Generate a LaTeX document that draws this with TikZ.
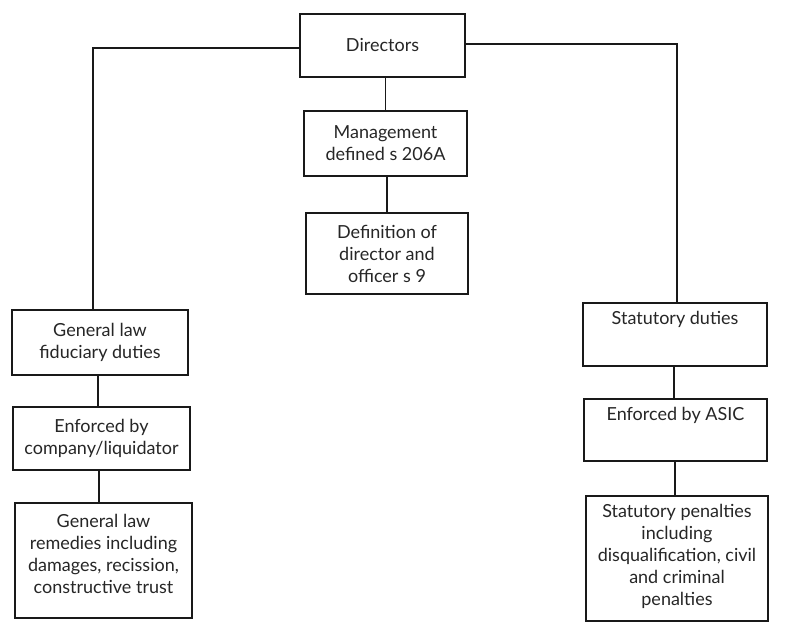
\documentclass[tikz,border=0pt]{standalone}
\usepackage{fontspec}
\setmainfont{Lato}
\begin{document}
\begin{tikzpicture}[x=1pt,y=-1pt,
  every node/.style={font=\fontsize{18}{22}\selectfont, text=black!85},
  box/.style={draw=black!90, line width=1.1pt, inner sep=0pt, align=center},
  txt/.style={inner sep=0pt, align=center, anchor=north},
  link/.style={draw=black!90, line width=1.1pt}]
\useasboundingbox (0,0) rectangle (795,628);
\fill[white] (0,0) rectangle (795,628);

% central column
\node[box, minimum width=165pt, minimum height=63pt] (dir) at (382.5,45.5) {Directors};
\node[box, minimum width=163pt, minimum height=65pt] (mg) at (385.5,143.5) {Management\\defined s 206A};
\node[box, minimum width=162pt, minimum height=81pt] (df) at (387,253.5) {Definition of\\director and\\officer s 9};

% left column
\node[box, minimum width=176pt, minimum height=65pt] (gen) at (100,342.5) {General law\\fiduciary duties};
\node[box, minimum width=177pt, minimum height=63pt] (enf) at (101.5,438.5) {Enforced by\\company/liquidator};
\node[box, minimum width=177pt, minimum height=115pt] (rem) at (103.5,560.5) {};
\node[txt] (remt) at ([yshift=-12pt]rem.north) {General law\\remedies including\\damages, recission,\\constructive trust};

% right column
\node[box, minimum width=184pt, minimum height=63pt] (st) at (675,334.5) {};
\node[txt] (stt) at ([yshift=-9pt]st.north) {Statutory duties};
\node[box, minimum width=183pt, minimum height=62pt] (asic) at (675.5,430) {};
\node[txt] (asict) at ([yshift=-9pt]asic.north) {Enforced by ASIC};
\node[box, minimum width=182pt, minimum height=125pt] (pen) at (677,558.5) {};
\node[txt] (pent) at ([yshift=-9pt]pen.north) {Statutory penalties\\including\\disqualification, civil\\and criminal\\penalties};

% connectors
\coordinate (lc) at (93,48);
\coordinate (rc) at (677,44);
\draw[link] (dir.west |- lc) -- (lc) -- (lc |- gen.north);
\draw[link] (dir.east |- rc) -- (rc) -- (rc |- st.north);
\draw[link] (mg.north |- dir.south) -- (mg.north);
\draw[link] (df.north |- mg.south) -- (df.north);
\draw[link] (gen.south -| 98,0) -- (enf.north -| 98,0);
\draw[link] (enf.south -| 99,0) -- (rem.north -| 99,0);
\draw[link] (st.south -| 674,0) -- (asic.north -| 674,0);
\draw[link] (asic.south -| 675,0) -- (pen.north -| 675,0);
\end{tikzpicture}
\end{document}
